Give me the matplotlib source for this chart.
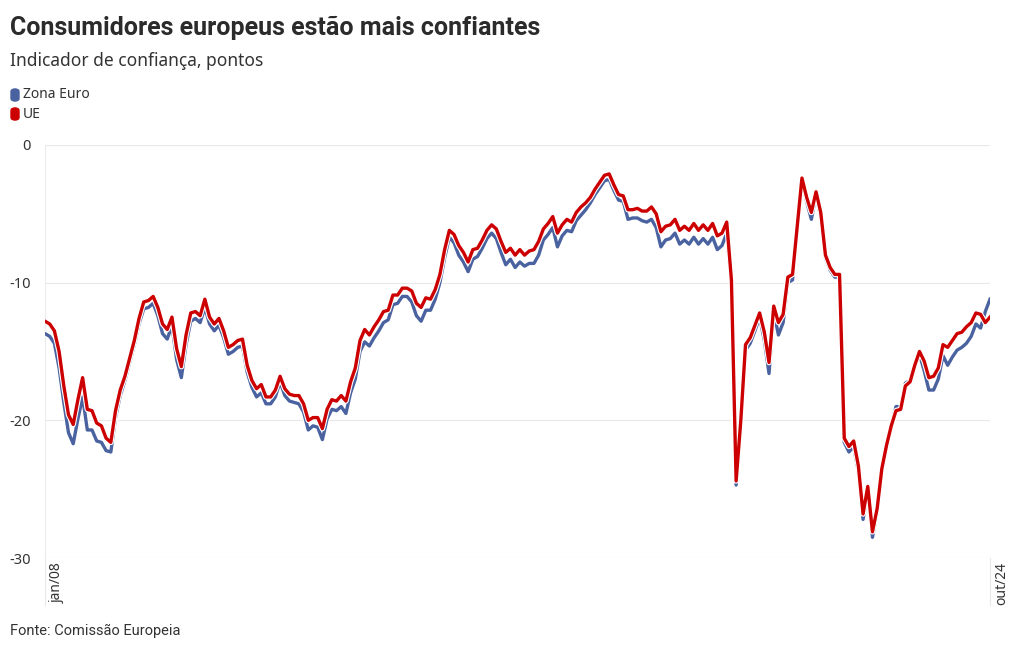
import matplotlib
matplotlib.use('Agg')
import matplotlib.pyplot as plt
import matplotlib.patheffects as pe
from matplotlib.patches import FancyBboxPatch
from matplotlib import font_manager

# indicador de confiança dos consumidores, mensal jan/08 - out/24
ue = [
    -12.8, -13.0, -13.5, -15.0, -17.5, -19.6, -20.3, -18.5, -16.9, -19.2, -19.3, -20.2,  # 2008
    -20.4, -21.3, -21.6, -19.3, -17.8, -16.8, -15.5, -14.2, -12.6, -11.4, -11.3, -11.0,  # 2009
    -11.8, -13.0, -13.4, -12.5, -14.8, -16.1, -13.8, -12.2, -12.1, -12.4, -11.2, -12.5,  # 2010
    -13.0, -12.6, -13.5, -14.7, -14.5, -14.2, -14.1, -16.0, -17.1, -17.7, -17.4, -18.3,  # 2011
    -18.3, -17.8, -16.8, -17.7, -18.1, -18.2, -18.2, -18.8, -20.0, -19.8, -19.8, -20.6,  # 2012
    -19.2, -18.5, -18.6, -18.2, -18.6, -17.2, -16.2, -14.2, -13.4, -13.8, -13.2, -12.7,  # 2013
    -12.1, -12.0, -10.9, -10.9, -10.4, -10.4, -10.6, -11.5, -11.8, -11.1, -11.2, -10.5,  # 2014
    -9.4, -7.6, -6.2, -6.5, -7.3, -7.8, -8.5, -7.6, -7.5, -6.9, -6.2, -5.8,  # 2015
    -6.1, -7.0, -7.8, -7.5, -8.0, -7.6, -8.0, -7.7, -7.6, -7.0, -6.1, -5.7,  # 2016
    -5.2, -6.4, -5.8, -5.4, -5.6, -4.9, -4.5, -4.2, -3.8, -3.2, -2.7, -2.2,  # 2017
    -2.1, -2.9, -3.6, -3.7, -4.7, -4.7, -4.6, -4.8, -4.8, -4.5, -5.0, -6.3,  # 2018
    -5.9, -5.8, -5.4, -6.2, -5.9, -6.2, -5.7, -6.2, -5.8, -6.2, -5.7, -6.6,  # 2019
    -6.4, -5.6, -9.8, -24.4, -20.0, -14.5, -14.0, -13.1, -12.2, -13.6, -15.8, -11.7,  # 2020
    -12.9, -12.3, -9.6, -9.4, -5.9, -2.4, -3.8, -4.9, -3.4, -4.9, -8.0, -8.9,  # 2021
    -9.4, -9.4, -21.3, -21.9, -21.5, -23.3, -26.8, -24.8, -28.1, -26.4, -23.5, -21.8,  # 2022
    -20.4, -19.3, -19.2, -17.5, -17.2, -16.0, -15.0, -15.7, -16.9, -16.8, -16.2, -14.5,  # 2023
    -14.7, -14.2, -13.7, -13.6, -13.2, -12.9, -12.2, -12.3, -12.9, -12.5,  # 2024
]

zona_euro = [
    -13.7, -13.9, -14.4, -16.2, -18.7, -20.9, -21.7, -19.9, -18.3, -20.7, -20.7, -21.5,
    -21.6, -22.2, -22.3, -19.8, -18.2, -17.1, -15.8, -14.5, -13.0, -11.9, -11.8, -11.5,
    -12.4, -13.7, -14.1, -13.1, -15.6, -16.9, -14.5, -12.8, -12.6, -12.9, -11.8, -13.0,
    -13.5, -13.1, -14.0, -15.2, -15.0, -14.7, -14.6, -16.5, -17.6, -18.3, -18.0, -18.8,
    -18.8, -18.3, -17.2, -18.2, -18.6, -18.7, -18.8, -19.4, -20.7, -20.4, -20.5, -21.4,
    -19.9, -19.2, -19.3, -19.0, -19.5, -18.0, -17.0, -15.0, -14.3, -14.6, -14.0, -13.5,
    -12.9, -12.7, -11.6, -11.5, -11.0, -11.0, -11.4, -12.4, -12.8, -12.0, -12.0, -11.2,
    -10.0, -8.2, -6.7, -7.1, -8.0, -8.5, -9.2, -8.3, -8.1, -7.5, -6.8, -6.4,
    -6.8, -7.8, -8.7, -8.3, -8.9, -8.5, -8.8, -8.6, -8.6, -8.0, -6.9, -6.5,
    -6.0, -7.4, -6.6, -6.2, -6.3, -5.5, -5.1, -4.7, -4.2, -3.6, -3.1, -2.6,
    -2.5, -3.3, -4.0, -4.1, -5.4, -5.3, -5.3, -5.5, -5.6, -5.4, -6.0, -7.4,
    -6.9, -6.8, -6.4, -7.2, -6.9, -7.2, -6.7, -7.2, -6.8, -7.2, -6.7, -7.6,
    -7.3, -6.4, -10.1, -24.7, -20.3, -14.9, -14.4, -13.5, -12.5, -14.2, -16.6, -12.1,
    -13.8, -12.9, -10.0, -9.8, -6.1, -2.4, -4.1, -5.4, -3.6, -5.2, -8.2, -9.1,
    -9.6, -9.6, -21.6, -22.3, -21.9, -23.7, -27.2, -25.0, -28.5, -26.6, -23.6, -21.8,
    -20.4, -19.0, -19.0, -17.3, -17.1, -16.0, -15.2, -16.4, -17.8, -17.8, -17.0, -15.3,
    -16.0, -15.4, -14.9, -14.7, -14.4, -13.9, -13.0, -13.3, -12.1, -11.2,
]

rotulos_x = ['jan/08', 'out/24']
yticks = [0, -10, -20, -30]

azul = '#4a63a0'
vermelho = '#cc0000'
texto = '#333333'

disponiveis = {f.name for f in font_manager.fontManager.ttflist}
fonte = 'Noto Sans'
fonte_titulo = 'Liberation Sans Narrow' if 'Liberation Sans Narrow' in disponiveis else 'Roboto'
plt.rcParams['font.family'] = [fonte, 'DejaVu Sans']

fig = plt.figure(figsize=(10.2, 6.5), dpi=100)
ax = fig.add_axes([45 / 1020, 1 - 558 / 650, 945 / 1020, 413 / 650])

x = list(range(len(ue)))
contorno = [pe.Stroke(linewidth=4.0, foreground='white'), pe.Normal()]
ax.plot(x, zona_euro, color=azul, lw=2.4, solid_joinstyle='round',
        path_effects=contorno, zorder=3)
ax.plot(x, ue, color=vermelho, lw=2.4, solid_joinstyle='round',
        path_effects=contorno, zorder=4)

ax.set_xlim(0, len(ue) - 1)
ax.set_ylim(-30, 0)
ax.set_yticks(yticks)
ax.set_yticklabels([str(v) for v in yticks], fontsize=10.5, color=texto)
ax.tick_params(axis='y', length=0, pad=10)
ax.set_xticks([])
ax.grid(axis='y', color='#e8e8e8', lw=0.8)
for s in ['top', 'right', 'bottom']:
    ax.spines[s].set_visible(False)
ax.spines['left'].set_color('#ececec')
ax.spines['left'].set_linewidth(0.8)

# rótulos do eixo x (verticais)
trans = ax.get_xaxis_transform()
for xi, lab in zip([0, len(ue) - 1], rotulos_x):
    ax.plot([xi, xi], [0, -0.115], transform=trans, color='#e8e8e8', lw=0.8, clip_on=False)
    ax.annotate(lab, xy=(xi, 0), xycoords=trans, xytext=(8.5, -3), textcoords='offset points',
                rotation=90, ha='center', va='top', fontsize=10, color=texto)

fig.text(10 / 1020, 1 - 28 / 650, 'Consumidores europeus estão mais confiantes',
         family=fonte_titulo, weight='bold', fontsize=18, color='#2b2b2b', va='center')
fig.text(10 / 1020, 1 - 61 / 650, 'Indicador de confiança, pontos',
         fontsize=12.5, color=texto, va='center')

for i, (nome, cor) in enumerate([('Zona Euro', azul), ('UE', vermelho)]):
    yc = 95 + i * 19
    fig.patches.append(FancyBboxPatch((11 / 1020, 1 - (yc + 6) / 650), 8 / 1020, 12 / 650,
                                      boxstyle='round,pad=0,rounding_size=0.004',
                                      transform=fig.transFigure, color=cor))
    fig.text(23 / 1020, 1 - yc / 650, nome, fontsize=10, color=texto, va='center')

fig.text(10 / 1020, 1 - 631 / 650, 'Fonte: Comissão Europeia', family=fonte_titulo,
         fontsize=10.5, color=texto, va='center')

fig.savefig('out.png', dpi=100)
